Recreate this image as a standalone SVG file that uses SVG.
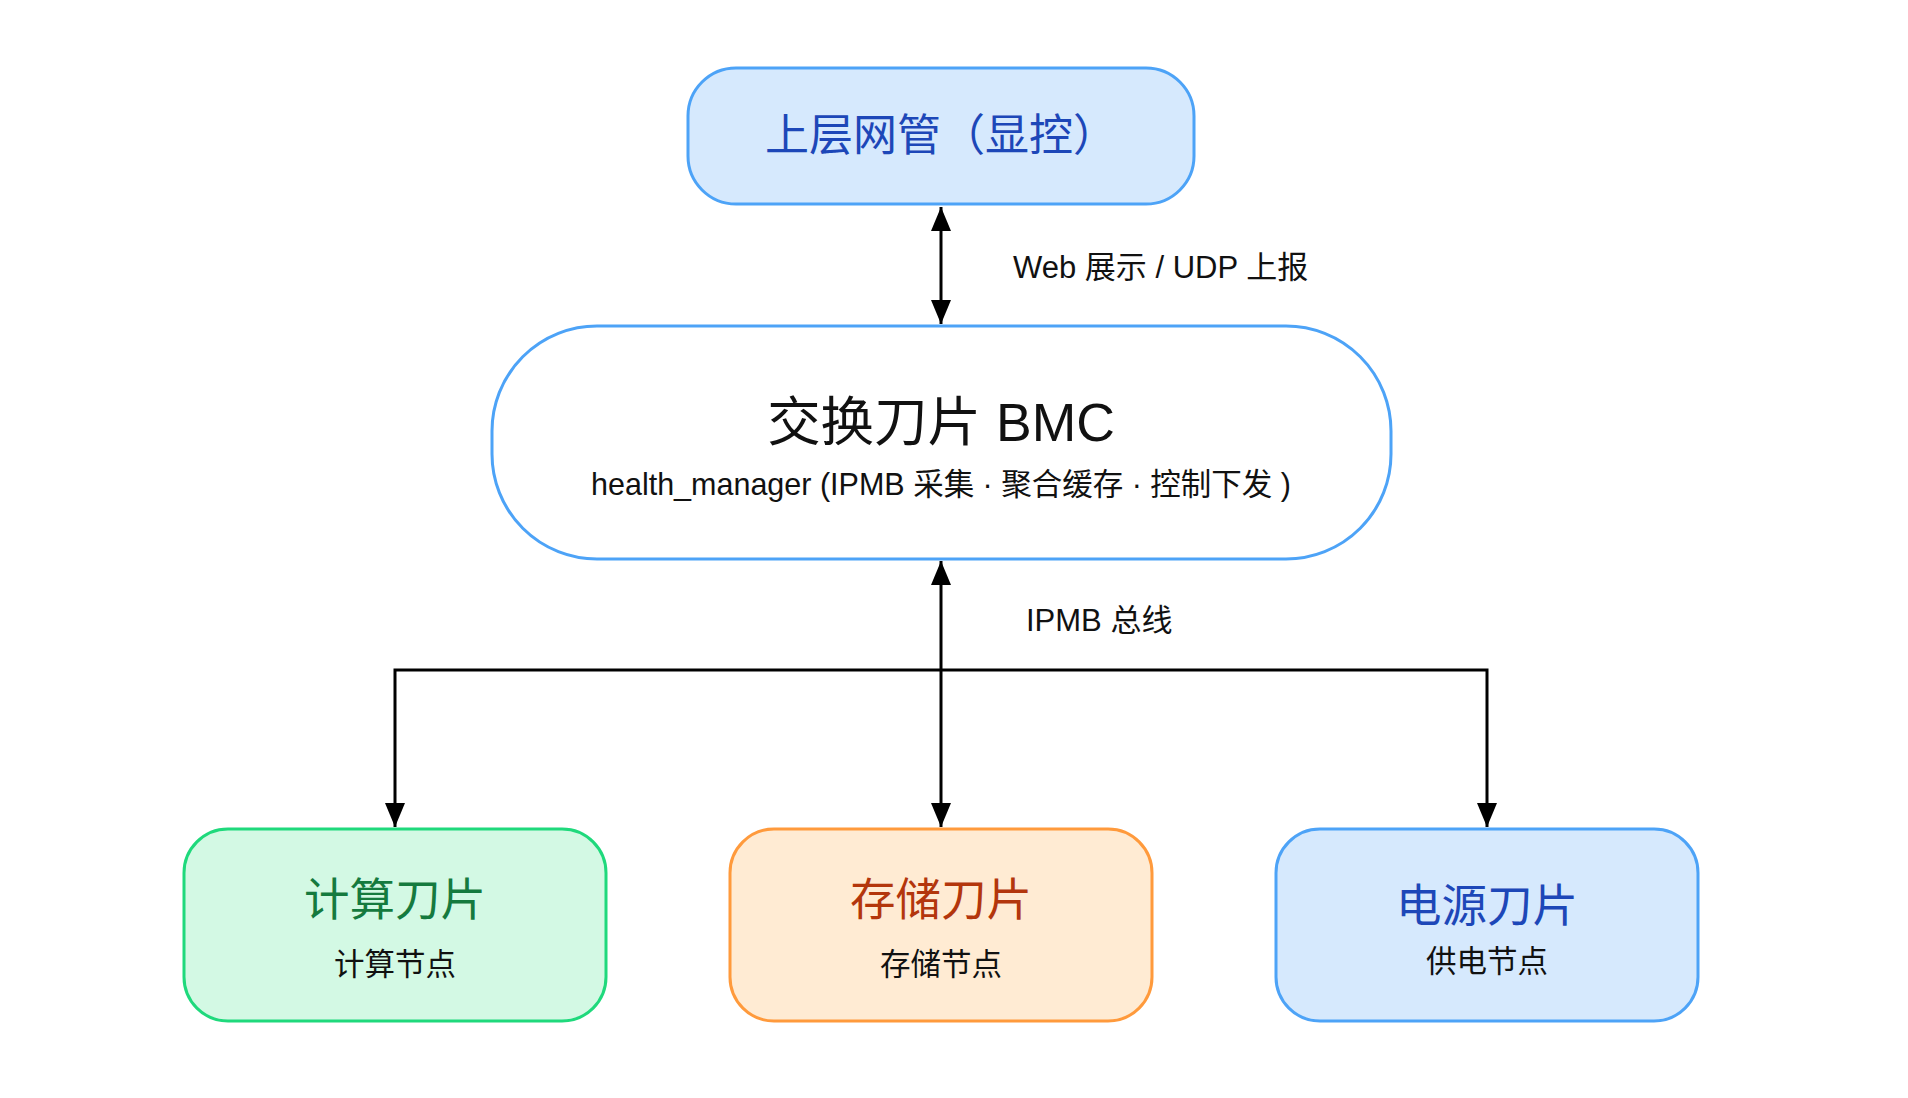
<svg xmlns="http://www.w3.org/2000/svg" width="1908" height="1098" viewBox="0 0 1908 1098">
<defs>
<style>
text{font-family:"Liberation Sans","Noto Sans CJK SC",sans-serif;text-anchor:middle;}
.cjk{font-family:"Noto Sans CJK SC","Liberation Sans",sans-serif;}
.conn{stroke:#000;stroke-width:3;fill:none;}
.lbl{font-size:31px;fill:#111;text-anchor:start;}
.title{font-size:45.5px;}
.sub{font-size:30.5px;fill:#111;}
</style>
<marker id="ah" viewBox="0 0 24 20" refX="24" refY="10" markerWidth="24" markerHeight="20" markerUnits="userSpaceOnUse" orient="auto-start-reverse">
<path d="M0,0 L24,10 L0,20 z" fill="#000"/>
</marker>
</defs>
<rect width="1908" height="1098" fill="#fff"/>
<g id="connectors">
<line class="conn" x1="941" y1="207" x2="941" y2="324" marker-start="url(#ah)" marker-end="url(#ah)"/>
<line class="conn" x1="941" y1="670" x2="941" y2="561" marker-end="url(#ah)"/>
<polyline class="conn" points="395,827 395,670 1487,670 1487,827" marker-start="url(#ah)" marker-end="url(#ah)"/>
<line class="conn" x1="941" y1="670" x2="941" y2="827" marker-end="url(#ah)"/>
<text class="lbl" x="1013" y="278">Web 展示 / UDP 上报</text>
<text class="lbl" x="1026" y="631">IPMB 总线</text>
</g>
<g id="top">
<rect x="688" y="68" width="506" height="136" rx="48" fill="#d6e9fd" stroke="#4da3f7" stroke-width="3"/>
<text class="cjk" x="941" y="151" font-size="44" fill="#1d47b8">上层网管（显控）</text>
</g>
<g id="bmc">
<rect x="492" y="326" width="899" height="233" rx="105" fill="#fff" stroke="#4da3f7" stroke-width="3"/>
<text x="941" y="441" font-size="53.5" fill="#111">交换刀片 BMC</text>
<text x="941" y="495" font-size="30.5" fill="#111">health_manager (IPMB 采集 · 聚合缓存 · 控制下发 )</text>
</g>
<g id="compute">
<rect x="184" y="829" width="422" height="192" rx="44" fill="#d3f9e4" stroke="#1fd97c" stroke-width="3"/>
<text class="cjk title" x="395" y="916" fill="#157a3e">计算刀片</text>
<text class="cjk sub" x="395" y="975">计算节点</text>
</g>
<g id="storage">
<rect x="730" y="829" width="422" height="192" rx="44" fill="#ffebd3" stroke="#ff9a3c" stroke-width="3"/>
<text class="cjk title" x="941" y="916" fill="#b3360c">存储刀片</text>
<text class="cjk sub" x="941" y="975">存储节点</text>
</g>
<g id="power">
<rect x="1276" y="829" width="422" height="192" rx="44" fill="#d6e9fd" stroke="#4da3f7" stroke-width="3"/>
<text class="cjk title" x="1487" y="922" fill="#1d47b8">电源刀片</text>
<text class="cjk sub" x="1487" y="972">供电节点</text>
</g>
</svg>
